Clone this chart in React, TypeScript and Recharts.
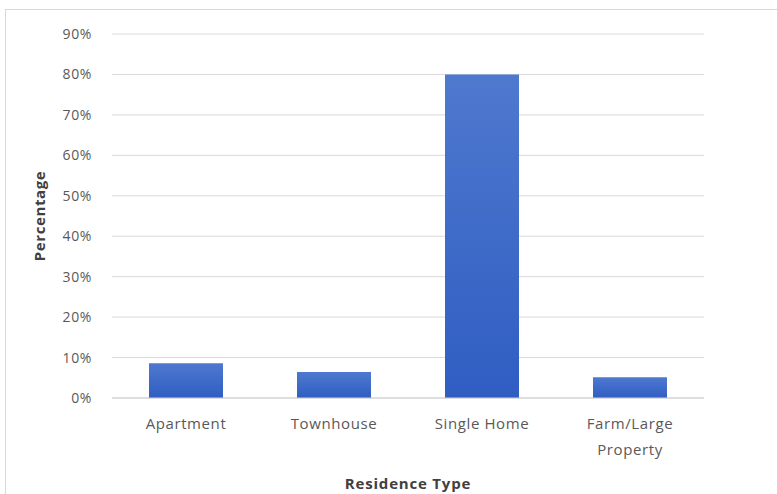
import React from 'react';
import {
  BarChart,
  Bar,
  XAxis,
  YAxis,
  CartesianGrid,
  Text,
} from 'recharts';

const residenceTypes = ['Apartment', 'Townhouse', 'Single Home', 'Farm/Large Property'];
const percentages = [8.6, 6.4, 80, 5.1];
const yTicks = [0, 10, 20, 30, 40, 50, 60, 70, 80, 90];

const data = residenceTypes.map((name, i) => ({ name, value: percentages[i] }));

const FONT = '"Open Sans", sans-serif';

// category labels wrap like the spreadsheet chart does
const CategoryTick = ({ x, y, payload }: any) => (
  <Text
    x={x}
    y={y + 12}
    width={110}
    textAnchor="middle"
    verticalAnchor="start"
    lineHeight={26}
    fontFamily={FONT}
    fontSize={15}
    letterSpacing={0.6}
    fill="#595959"
  >
    {payload.value}
  </Text>
);

export default function App() {
  return (
    <div style={{ position: 'absolute', left: 0, top: 0, width: 777, height: 494, background: '#fff', overflow: 'hidden' }}>
      <div
        style={{
          position: 'absolute',
          left: 5,
          top: 9,
          width: 790,
          height: 500,
          border: '1px solid #d9d9d9',
          boxSizing: 'border-box',
        }}
      />
      <BarChart
        width={777}
        height={494}
        data={data}
        margin={{ top: 34, right: 73, left: 20, bottom: 0 }}
        barCategoryGap="25%"
        style={{ position: 'absolute', left: 0, top: 0 }}
      >
        <defs>
          <linearGradient id="barFill" x1="0" y1="0" x2="0" y2="1">
            <stop offset="0%" stopColor="#4f79cf" />
            <stop offset="100%" stopColor="#2f5dc2" />
          </linearGradient>
        </defs>
        <CartesianGrid vertical={false} stroke="#d9d9d9" strokeWidth={1} />
        <XAxis
          dataKey="name"
          height={96}
          interval={0}
          tickLine={false}
          axisLine={{ stroke: '#d0d0d0' }}
          tick={<CategoryTick />}
          label={{
            value: 'Residence Type',
            position: 'insideBottom',
            offset: 5,
            fill: '#404040',
            fontFamily: FONT,
            fontSize: 15,
            fontWeight: 'bold',
            letterSpacing: 0.8,
          }}
        />
        <YAxis
          width={92}
          domain={[0, 90]}
          ticks={yTicks}
          interval={0}
          tickLine={false}
          axisLine={false}
          tickFormatter={(v: number) => `${v}%`}
          tick={{ fill: '#595959', fontFamily: FONT, fontSize: 14, letterSpacing: 0.6 }}
          tickMargin={14}
          label={{
            value: 'Percentage',
            angle: -90,
            position: 'insideLeft',
            offset: 20,
            style: { textAnchor: 'middle' },
            fill: '#404040',
            fontFamily: FONT,
            fontSize: 15,
            fontWeight: 'bold',
            letterSpacing: 0.6,
          }}
        />
        <Bar dataKey="value" fill="url(#barFill)" isAnimationActive={false} />
      </BarChart>
    </div>
  );
}
